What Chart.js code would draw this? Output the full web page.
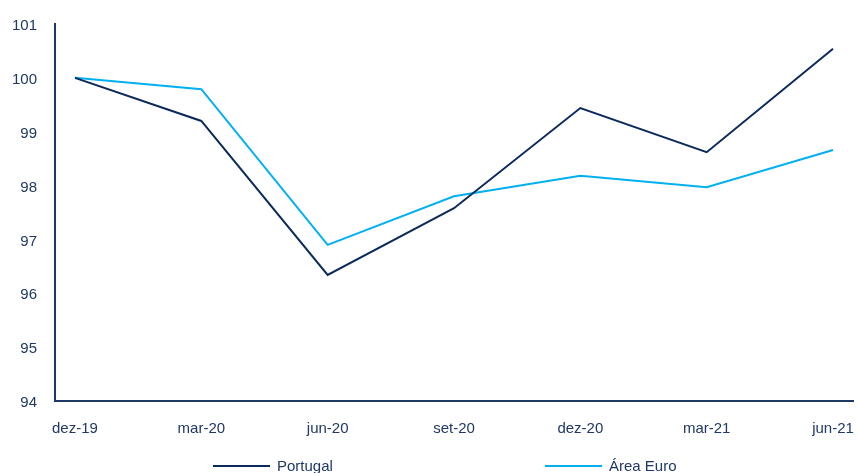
<!DOCTYPE html>
<html>
<head>
<meta charset="utf-8">
<script src="https://cdn.jsdelivr.net/npm/chart.js@4"></script>
<style>
    html, body { margin: 0; padding: 0; background: #fff; overflow: hidden; }
    #wrap { position: relative; width: 859px; height: 473px; }
    .legend-item { position: absolute; top: 457px; font-family: 'Liberation Sans', Arial, sans-serif; font-size: 15px; color: #1f3864; white-space: nowrap; }
    .legend-item span { display: inline-block; width: 57px; height: 2px; vertical-align: middle; margin-right: 7px; position: relative; top: -1px; }
</style>
</head>
<body>
<div id="wrap">
    <canvas id="chart" width="859" height="473"></canvas>
    <div class="legend-item" style="left:213px;"><span style="background:#0b2a5b;"></span>Portugal</div>
    <div class="legend-item" style="left:545px;"><span style="background:#00b0f0;"></span>Área Euro</div>
</div>
<script>
// Data
const labels = ['dez-19', 'mar-20', 'jun-20', 'set-20', 'dez-20', 'mar-21', 'jun-21'];
const portugal = [100, 99.2, 96.34, 97.58, 99.44, 98.62, 100.54];
const areaEuro = [100, 99.79, 96.9, 97.8, 98.18, 97.97, 98.66];
const yTicks = [94, 95, 96, 97, 98, 99, 100, 101];

const navy = '#1f3864';
const toPoints = arr => arr.map((v, i) => ({ x: i, y: v }));

const ctx = document.getElementById('chart').getContext('2d');
const chart = new Chart(ctx, {
    type: 'line',
    data: {
        datasets: [{
            label: 'Portugal',
            data: toPoints(portugal),
            borderColor: '#0b2a5b',
            borderWidth: 2,
            pointRadius: 0,
            tension: 0,
            fill: false
        }, {
            label: 'Área Euro',
            data: toPoints(areaEuro),
            borderColor: '#00b0f0',
            borderWidth: 2,
            pointRadius: 0,
            tension: 0,
            fill: false
        }]
    },
    options: {
        responsive: false,
        animation: false,
        layout: { padding: { left: 0, right: 6, top: 24, bottom: 0 } },
        plugins: {
            legend: { display: false },
            tooltip: { enabled: false }
        },
        scales: {
            x: {
                type: 'linear',
                min: -0.158,
                max: 6.158,
                afterBuildTicks: scale => {
                    scale.ticks = labels.map((_, i) => ({ value: i }));
                },
                afterFit: scale => {
                    scale.height = 72;
                    // labels may overhang the ends, keep the plot full width
                    scale.paddingLeft = 0;
                    scale.paddingRight = 0;
                },
                grid: { display: false, drawTicks: false },
                border: { display: true, color: navy, width: 2 },
                ticks: {
                    autoSkip: false,
                    maxRotation: 0,
                    padding: 19,
                    color: navy,
                    font: { family: 'Liberation Sans', size: 15 },
                    callback: v => labels[v]
                }
            },
            y: {
                min: 94,
                max: 101,
                afterBuildTicks: scale => {
                    scale.ticks = yTicks.map(v => ({ value: v }));
                },
                afterFit: scale => {
                    scale.width = 55;
                    scale.paddingTop = 0;
                    scale.paddingBottom = 0;
                },
                grid: { display: false, drawTicks: false },
                border: { display: true, color: navy, width: 2 },
                ticks: {
                    padding: 18,
                    labelOffset: 2,
                    color: navy,
                    font: { family: 'Liberation Sans', size: 15 }
                }
            }
        }
    }
});
</script>
</body>
</html>
